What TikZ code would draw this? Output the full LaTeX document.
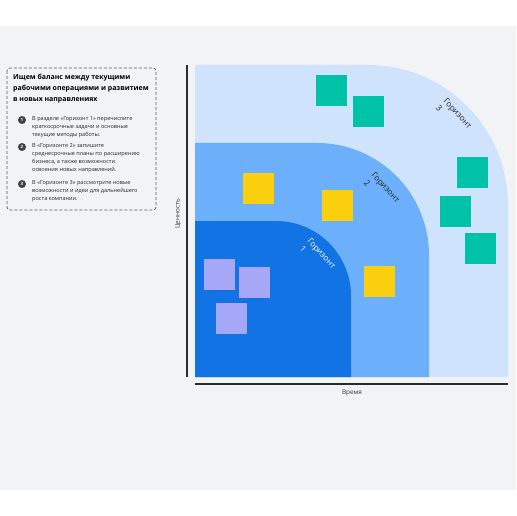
\documentclass[tikz,border=0pt]{standalone}
\usepackage{fontspec}
\setmainfont{Open Sans}
\usetikzlibrary{positioning}
\definecolor{bgcol}{HTML}{F2F3F5}
\definecolor{hlight}{HTML}{CFE4FC}
\definecolor{hmid}{HTML}{6CB0FC}
\definecolor{hdark}{HTML}{1173E4}
\definecolor{noteteal}{HTML}{00C2A8}
\definecolor{noteyellow}{HTML}{FACF0E}
\definecolor{notepurple}{HTML}{A6A7F7}
\definecolor{axiscol}{HTML}{2B2B2B}
\begin{document}
\begin{tikzpicture}[x=1bp, y=-1bp,
    note/.style={minimum size=31bp, inner sep=0pt, anchor=north west},
    teal/.style={note, fill=noteteal},
    yellow/.style={note, fill=noteyellow},
    purple/.style={note, fill=notepurple},
    horizon/.style={font=\fontsize{8.3}{10.5}\selectfont, align=left, rotate=-47, inner sep=0pt},
    bullet/.style={circle, fill=black!75, text=white, minimum size=8bp, inner sep=0pt, font=\fontsize{4.5}{5}\selectfont\bfseries},
    item/.style={anchor=north west, inner sep=0pt, align=left, font=\fontsize{5.6}{8.1}\selectfont, text=black!85}]
\useasboundingbox (0,0) rectangle (516,516);
\fill[white] (0,0) rectangle (516,516);
\fill[bgcol] (0,26) rectangle (516,490);

% horizons
\fill[hlight] (195,377) -- (195,65) -- (368,65) arc[start angle=270, end angle=360, radius=140] -- (508,377) -- cycle;
\fill[hmid] (195,377) -- (195,143) -- (317,143) arc[start angle=270, end angle=360, radius=112] -- (429,377) -- cycle;
\fill[hdark] (195,377) -- (195,221) -- (276,221) arc[start angle=270, end angle=360, radius=75] -- (351,377) -- cycle;

\node[horizon, text=white] (h1) at (318,257) {Горизонт\\1};
\node[horizon, text=black!85] (h2) at (382,191) {Горизонт\\2};
\node[horizon, text=black!85] (h3) at (454,117) {Горизонт\\3};

% sticky notes
\foreach \n/\x/\y in {t1/316/75, t2/353/96, t3/457/157, t4/440/196, t5/465/233}
    \node[teal] (\n) at (\x,\y) {};
\foreach \n/\x/\y in {y1/243/173, y2/322/190, y3/364/266}
    \node[yellow] (\n) at (\x,\y) {};
\foreach \n/\x/\y in {p1/204/259, p2/239/267, p3/216/303}
    \node[purple] (\n) at (\x,\y) {};

% axes
\coordinate (vtop) at (187,65);
\coordinate (vbot) at (187,377);
\coordinate (hleft) at (195,384);
\coordinate (hright) at (508,384);
\draw[axiscol, line width=2.4bp] (vtop) -- (vbot);
\draw[axiscol, line width=2.4bp] (hleft) -- (hright);
\node[rotate=90, font=\fontsize{6.4}{7}\selectfont, text=black!80] (ylab) at (178,214) {Ценность};
\node[font=\fontsize{6.4}{7}\selectfont, text=black!80] (xlab) at (352,393) {Время};

% instructions
\draw[black!65, dashed, dash pattern=on 3bp off 2bp, rounded corners=3bp, line width=0.7bp] (7,68) rectangle (156,210);
\node[anchor=north west, inner sep=0pt, align=left, font=\fontsize{7}{11}\selectfont\bfseries] (title) at (13,74)
    {Ищем баланс между текущими\\рабочими операциями и развитием\\в новых направлениях};
\node[bullet] (b1) at (22,120) {1};
\node[bullet] (b2) at (22,147) {2};
\node[bullet] (b3) at (22,184) {3};
\node[item] (i1) at (32,116.5) {В разделе «Горизонт 1» перечислите\\краткосрочные задачи и основные\\текущие методы работы.};
\node[item] (i2) at (32,143.5) {В «Горизонте 2» запишите\\среднесрочные планы по расширению\\бизнеса, а также возможности\\освоения новых направлений.};
\node[item] (i3) at (32,180.5) {В «Горизонте 3» рассмотрите новые\\возможности и идеи для дальнейшего\\роста компании.};
\end{tikzpicture}
\end{document}
